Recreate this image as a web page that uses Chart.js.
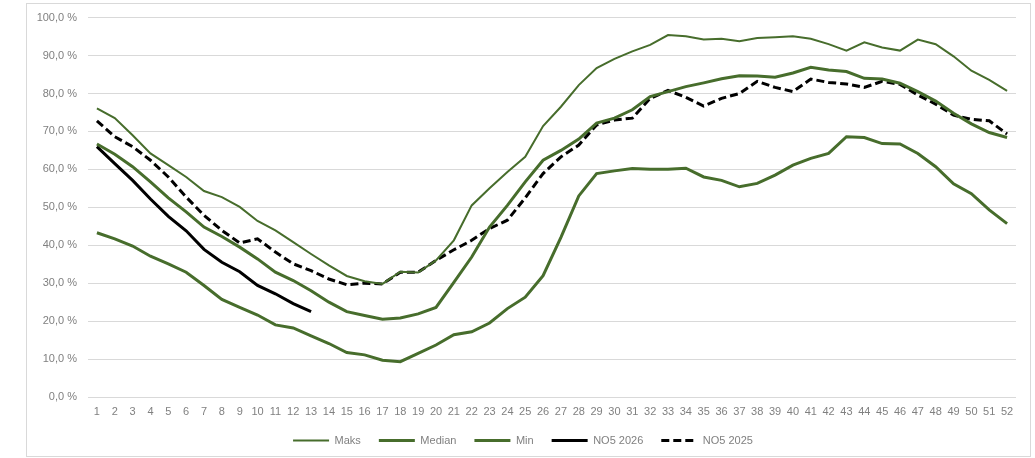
<!DOCTYPE html>
<html>
<head>
<meta charset="utf-8">
<script src="https://cdn.jsdelivr.net/npm/chart.js@4"></script>
<style>
  html, body { margin: 0; padding: 0; background: #ffffff; }
  #frame { position: absolute; left: 26px; top: 3px; width: 1005px; height: 454px; border: 1px solid #d9d9d9; box-sizing: border-box; }
  #c { position: absolute; left: 0; top: 0; }
</style>
</head>
<body>
<div id="frame"></div>
<canvas id="c" width="1035" height="458"></canvas>
<script>
const weeks = ['1','2','3','4','5','6','7','8','9','10','11','12','13','14','15','16','17','18','19','20','21','22','23','24','25','26','27','28','29','30','31','32','33','34','35','36','37','38','39','40','41','42','43','44','45','46','47','48','49','50','51','52'];

const maks = [76.1, 73.5, 69, 64.2, 61.1, 58, 54.3, 52.7, 50.1, 46.4, 43.9, 40.8, 37.7, 34.7, 31.9, 30.5, 29.8, 33, 32.8, 36, 41.3, 50.5, 55, 59.3, 63.3, 71.4, 76.5, 82.2, 86.7, 89.1, 91.1, 92.8, 95.4, 95.1, 94.2, 94.4, 93.8, 94.6, 94.8, 95.1, 94.4, 93, 91.3, 93.5, 92.1, 91.3, 94.2, 93, 89.8, 86, 83.6, 80.7];

const median = [66.7, 64, 60.7, 56.7, 52.5, 48.8, 44.8, 42.3, 39.5, 36.4, 32.9, 30.7, 28, 25, 22.5, 21.5, 20.5, 20.8, 21.9, 23.6, 30.2, 36.9, 44.8, 50.5, 56.7, 62.4, 65, 68, 72.2, 73.5, 75.7, 79.2, 80.5, 81.8, 82.8, 83.9, 84.7, 84.6, 84.3, 85.4, 86.9, 86.2, 85.8, 84, 83.8, 82.7, 80.5, 78, 74.8, 72, 69.7, 68.4];

const minimum = [43.3, 41.7, 39.8, 37.1, 35.1, 32.9, 29.4, 25.7, 23.6, 21.6, 19, 18.2, 16.1, 14.1, 11.7, 11.1, 9.7, 9.3, 11.5, 13.7, 16.4, 17.2, 19.5, 23.3, 26.3, 32, 42.1, 53, 58.9, 59.6, 60.2, 60, 60, 60.3, 58, 57.1, 55.4, 56.3, 58.5, 61.1, 62.9, 64.2, 68.6, 68.4, 66.8, 66.7, 64.2, 60.7, 56.2, 53.6, 49.3, 45.7];

const no5_2026 = [66, 61.5, 57.1, 52.2, 47.6, 43.8, 38.9, 35.5, 33, 29.4, 27.2, 24.6, 22.5];

const no5_2025 = [72.8, 68.6, 66, 62.4, 58, 52.7, 47.9, 43.9, 40.6, 41.7, 38.2, 35.1, 33.3, 31.1, 29.6, 30, 29.8, 32.9, 32.9, 36, 38.8, 41.3, 44.4, 46.6, 52.5, 58.9, 63.3, 66.4, 71.7, 73, 73.5, 78.7, 80.8, 79, 76.7, 78.7, 80, 83.2, 81.6, 80.5, 83.8, 82.9, 82.5, 81.6, 83.2, 82.4, 79.6, 77.2, 74.3, 73.2, 72.8, 69.3];

const seriesNames = ['Maks', 'Median', 'Min', 'NO5 2026', 'NO5 2025'];

const GREEN = '#476d2c';
const FONT = "'Liberation Sans', Arial, sans-serif";

function ds(label, data, color, width, dash) {
  return {
    label, data,
    borderColor: color, backgroundColor: color,
    borderWidth: width, borderDash: dash || [],
    pointRadius: 0, pointHoverRadius: 0, tension: 0,
    pointStyle: 'line', fill: false, spanGaps: false
  };
}

new Chart(document.getElementById('c'), {
  type: 'line',
  data: {
    labels: weeks,
    datasets: [
      ds(seriesNames[0], maks, GREEN, 2),
      ds(seriesNames[1], median, GREEN, 3),
      ds(seriesNames[2], minimum, GREEN, 3),
      ds(seriesNames[3], no5_2026, '#000000', 3),
      ds(seriesNames[4], no5_2025, '#000000', 3, [8, 4])
    ]
  },
  options: {
    responsive: false,
    animation: false,
    layout: { padding: { left: 30, right: 19, top: 14, bottom: 2 } },
    plugins: {
      tooltip: { enabled: false },
      legend: {
        position: 'bottom',
        labels: {
          usePointStyle: true,
          pointStyle: 'line',
          pointStyleWidth: 36,
          boxWidth: 36,
          boxHeight: 3,
          padding: 18,
          color: '#808080',
          font: { family: FONT, size: 11 },
          generateLabels(chart) {
            const items = Chart.defaults.plugins.legend.labels.generateLabels(chart);
            items.forEach(it => {
              const d = chart.data.datasets[it.datasetIndex];
              it.lineDash = d.borderDash || [];
              it.lineWidth = d.borderWidth;
              it.strokeStyle = d.borderColor;
              it.fillStyle = d.borderColor;
            });
            return items;
          }
        }
      }
    },
    scales: {
      x: {
        offset: true,
        grid: { display: false, drawTicks: false, offset: true },
        border: { display: false },
        afterFit(scale) { scale.height = 20; },
        ticks: { color: '#808080', font: { family: FONT, size: 11 }, padding: 8, maxRotation: 0, autoSkip: false }
      },
      y: {
        min: 0, max: 100,
        grid: { color: '#d9d9d9', lineWidth: 1, drawTicks: false },
        border: { display: false },
        afterFit(scale) { scale.width = 58; },
        ticks: {
          stepSize: 10,
          color: '#808080',
          font: { family: FONT, size: 11 },
          padding: 11,
          callback: v => v.toFixed(1).replace('.', ',') + ' %'
        }
      }
    }
  }
});
</script>
</body>
</html>
